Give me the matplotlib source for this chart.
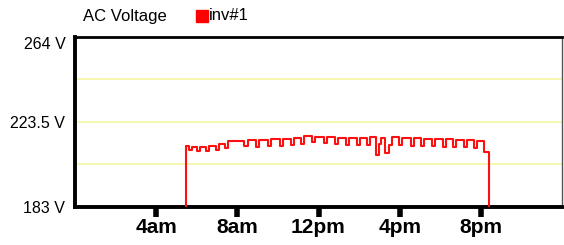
import matplotlib
matplotlib.use("Agg")
import matplotlib.pyplot as plt
from matplotlib.patches import Rectangle

# inverter AC voltage, step trace (hour of day, volts)
hours = [5.47, 5.47, 5.62, 5.78, 6.00, 6.15, 6.45, 6.60, 6.95, 7.10, 7.40, 7.55,
         8.35, 8.55, 8.90, 9.05, 9.50, 9.65, 10.10, 10.25, 10.65, 10.80, 11.15,
         11.30, 11.70, 11.85, 12.25, 12.40, 12.80, 12.95, 13.35, 13.50, 13.90,
         14.05, 14.40, 14.55, 14.85, 15.00, 15.10, 15.30, 15.45, 15.60, 15.95,
         16.10, 16.55, 16.70, 17.05, 17.20, 17.60, 17.75, 18.15, 18.30, 18.65,
         18.80, 19.15, 19.30, 19.65, 19.80, 20.15, 20.40]
volts = [183.0, 212.0, 210.0, 211.5, 209.5, 211.5, 209.5, 212.0, 210.0, 213.0, 211.0, 214.5,
         212.0, 215.0, 211.5, 215.0, 212.0, 215.5, 212.0, 215.5, 212.5, 216.0, 213.0,
         217.0, 214.0, 216.5, 213.5, 216.5, 213.0, 216.0, 212.5, 216.0, 212.5,
         216.0, 212.5, 216.5, 208.0, 213.0, 216.0, 208.5, 212.5, 216.5, 212.5,
         216.0, 212.0, 216.0, 212.0, 215.5, 212.0, 215.5, 211.5, 215.5, 211.5,
         215.0, 211.5, 215.0, 211.0, 214.5, 209.0, 183.0]

xticks = [4, 8, 12, 16, 20]
xlabels = ["4am", "8am", "12pm", "4pm", "8pm"]
yticks = [183, 223.5, 264]
ylabels = ["183 V", "223.5 V", "264 V"]
grid_y = [203.25, 223.5, 243.75]

plt.rcParams['font.family'] = ['Liberation Sans', 'DejaVu Sans']

fig = plt.figure(figsize=(5.64, 2.45), dpi=100)
ax = fig.add_axes([75/564, 1-207/245, (562-75)/564, (207-37)/245])

for g in grid_y:
    ax.axhline(g, color="#f7f7a8", lw=1.3, zorder=1)

ax.plot(hours, volts, color="#ff1010", lw=1.5, drawstyle="steps-post", zorder=3)

ax.set_xlim(0, 24)
ax.set_ylim(183, 264)
ax.set_xticks(xticks)
ax.set_xticklabels(xlabels, fontsize=15, fontweight="bold")
ax.set_yticks(yticks)
ax.set_yticklabels(ylabels, fontsize=11.5)
ax.get_yticklabels()[-1].set_va("top")
ax.tick_params(axis="x", direction="out", length=7, width=4, pad=1, colors="black")
ax.tick_params(axis="y", length=0, pad=7)

ax.spines["left"].set_linewidth(2.8)
ax.spines["bottom"].set_linewidth(2.8)
ax.spines["top"].set_linewidth(2.0)
ax.spines["right"].set_linewidth(1.0)
ax.spines["right"].set_color("#555555")

fig.text(83/564, 1-16/245, "AC Voltage", fontsize=12, va="center", ha="left")
fig.patches.append(Rectangle((196/564, 1-22/245), 12/564, 12/245,
                             transform=fig.transFigure, color="#ff0000"))
fig.text(209/564, 1-16/245, "inv#1", fontsize=12, va="center", ha="left")

fig.savefig("out.png", dpi=100)
